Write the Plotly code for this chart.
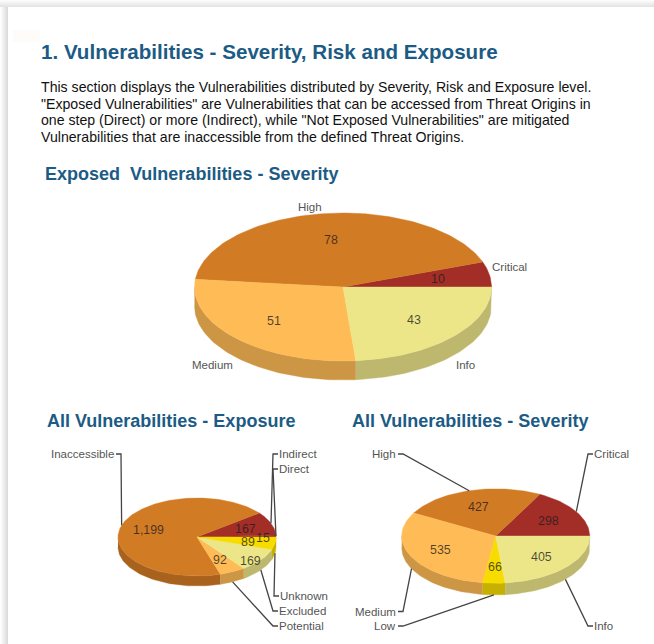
import math
import plotly.graph_objects as go

# ---- data ----
severity_exposed_labels = ["Critical", "High", "Medium", "Info"]
severity_exposed_values = [10, 78, 51, 43]
severity_exposed_colors = ["#A32D27", "#D27B25", "#FFBB55", "#ECE688"]

exposure_labels = ["Direct", "Indirect", "Inaccessible", "Potential", "Excluded", "Unknown"]
exposure_values = [15, 167, 1199, 92, 169, 89]
exposure_colors = ["#A32D27", "#A32D27", "#D27B25", "#FFBB55", "#ECE688", "#F7DC00"]

severity_all_labels = ["Critical", "High", "Medium", "Low", "Info"]
severity_all_values = [298, 427, 535, 66, 405]
severity_all_colors = ["#A32D27", "#D27B25", "#FFBB55", "#F7DC00", "#ECE688"]

main_title = "1. Vulnerabilities - Severity, Risk and Exposure"
intro_lines = [
    "This section displays the Vulnerabilities distributed by Severity, Risk and Exposure level.",
    '"Exposed Vulnerabilities" are Vulnerabilities that can be accessed from Threat Origins in',
    'one step (Direct) or more (Indirect), while "Not Exposed Vulnerabilities" are mitigated',
    "Vulnerabilities that are inaccessible from the defined Threat Origins.",
]
section_titles = ["Exposed  Vulnerabilities - Severity",
                  "All Vulnerabilities - Exposure",
                  "All Vulnerabilities - Severity"]

# ---- layout constants ----
W, H = 654, 644
FONT = "Liberation Sans, Arial, sans-serif"
BLUE = "#1C5B85"
LABEL = "#555555"
VALUE = "rgba(30,30,30,0.78)"
LINE = "#444444"

fig = go.Figure()
annotations = []


def text(x, y, s, size=11.5, color=LABEL, anchor="center", bold=False):
    annotations.append(dict(
        x=x, y=y, xref="x", yref="y", text=f"<b>{s}</b>" if bold else s, showarrow=False,
        xanchor=anchor, yanchor="middle", align="left", borderpad=0,
        font=dict(family=FONT, size=size, color=color)))


def shade(hex_color, k=0.8):
    r, g, b = (int(hex_color[i:i + 2], 16) for i in (1, 3, 5))
    return f"rgb({r * k:.0f},{g * k:.0f},{b * k:.0f})"


def arc(cx, cy, rx, ry, a0, a1, dy=0.0):
    n = max(2, int(abs(a1 - a0) / 1.5) + 2)
    pts = [a0 + (a1 - a0) * i / (n - 1) for i in range(n)]
    return ([cx + rx * math.cos(math.radians(a)) for a in pts],
            [cy - ry * math.sin(math.radians(a)) + dy for a in pts])


def poly(xs, ys, color):
    fig.add_trace(go.Scatter(x=xs, y=ys, mode="lines", fill="toself", fillcolor=color,
                             line=dict(color=color, width=0.4), hoverinfo="skip", showlegend=False))


def pie3d(labels, values, colors, cx, cy, rx, ry, depth, value_offsets=None, leaders=None, plain=None):
    total = sum(values)
    start = 0.0
    spans = []
    for v in values:
        end = start + v / total * 360
        spans.append((start, end))
        start = end
    # side wall (front half only)
    for (a0, a1), c in zip(spans, colors):
        lo, hi = max(a0, 180), min(a1, 360)
        if hi > lo:
            x1, y1 = arc(cx, cy, rx, ry, lo, hi)
            x2, y2 = arc(cx, cy, rx, ry, hi, lo, depth)
            poly(x1 + x2, y1 + y2, shade(c))
    # top face
    for (a0, a1), c in zip(spans, colors):
        xs, ys = arc(cx, cy, rx, ry, a0, a1)
        poly([cx] + xs + [cx], [cy] + ys + [cy], c)
    # value labels and leaders
    for i, (lab, v) in enumerate(zip(labels, values)):
        mid = sum(spans[i]) / 2
        ca, sa = math.cos(math.radians(mid)), math.sin(math.radians(mid))
        ox, oy = (value_offsets or {}).get(lab, (0, 0))
        text(cx + 0.65 * rx * ca + ox, cy - 0.65 * ry * sa + 0.5 + oy, f"{v:,}", size=12.4, color=VALUE)
        if leaders and lab in leaders:
            ex, ey, side = leaders[lab]
            ax, ay = cx + rx * ca, cy - ry * sa + (depth if sa < 0 else 0)
            stub = ex + (5 if side == "left" else -5)
            fig.add_trace(go.Scatter(x=[ax, ex, stub], y=[ay, ey, ey], mode="lines",
                                     line=dict(color=LINE, width=1.3), hoverinfo="skip", showlegend=False))
            text(stub + (-0.5 if side == "left" else -1.5), ey, lab, anchor="left" if side == "left" else "right")
        if plain and lab in plain:
            px, py, anc = plain[lab]
            text(px, py, lab, anchor=anc)


# page shadow strips
shapes = []
for i in range(7):
    g = 252 - i * 4
    shapes.append(dict(type="rect", xref="x", yref="y", x0=0, x1=W, y0=i, y1=i + 1,
                       fillcolor=f"rgb({g},{g},{g})", line_width=0, layer="below"))
for i in range(8):
    g = 254 - i * 5
    shapes.append(dict(type="rect", xref="x", yref="y", x0=i, x1=i + 1, y0=7, y1=H,
                       fillcolor=f"rgb({g},{g},{g})", line_width=0, layer="below"))
shapes.append(dict(type="rect", xref="x", yref="y", x0=13, x1=40, y0=30, y1=42,
                   fillcolor="#FDFCF9", line_width=0, layer="below"))

# pies
pie3d(severity_exposed_labels, severity_exposed_values, severity_exposed_colors,
      343, 287, 148.5, 74, 19,
      plain={"High": (310, 207, "center"), "Critical": (491, 267, "left"),
             "Medium": (212, 365, "center"), "Info": (465, 365, "center")})

pie3d(exposure_labels, exposure_values, exposure_colors,
      197, 537, 79, 39, 10,
      value_offsets={"Direct": (15, 1), "Excluded": (12, 9)},
      leaders={"Inaccessible": (121, 454, "right"), "Indirect": (273, 454, "left"),
               "Direct": (273, 469, "left"), "Unknown": (274, 596, "left"),
               "Excluded": (273, 611, "left"), "Potential": (273, 626, "left")})

pie3d(severity_all_labels, severity_all_values, severity_all_colors,
      495.7, 536, 94, 47.2, 11.7,
      leaders={"Critical": (588, 454, "left"), "High": (403, 454, "right"),
               "Medium": (403, 611.5, "right"), "Low": (403, 626, "right"),
               "Info": (588, 626, "left")})

# headings and paragraph
text(40, 51, main_title, size=20.6, color=BLUE, anchor="left", bold=True)
for y, line in zip([87, 104, 120, 137], intro_lines):
    text(40, y, line, size=14.13, color="#111111", anchor="left")
for (x, y), t in zip([(44, 174), (46, 421), (351, 421)], section_titles):
    text(x, y, t.replace("  ", "&nbsp;&nbsp;"), size=18, color=BLUE, anchor="left", bold=True)

fig.update_layout(
    width=W, height=H, margin=dict(l=0, r=0, t=0, b=0),
    paper_bgcolor="white", plot_bgcolor="white", showlegend=False,
    xaxis=dict(range=[0, W], visible=False, fixedrange=True),
    yaxis=dict(range=[H, 0], visible=False, fixedrange=True),
    annotations=annotations, shapes=shapes,
)
fig.write_html("out.html", post_script="document.body.style.margin='0';",
               config={"displayModeBar": False})
